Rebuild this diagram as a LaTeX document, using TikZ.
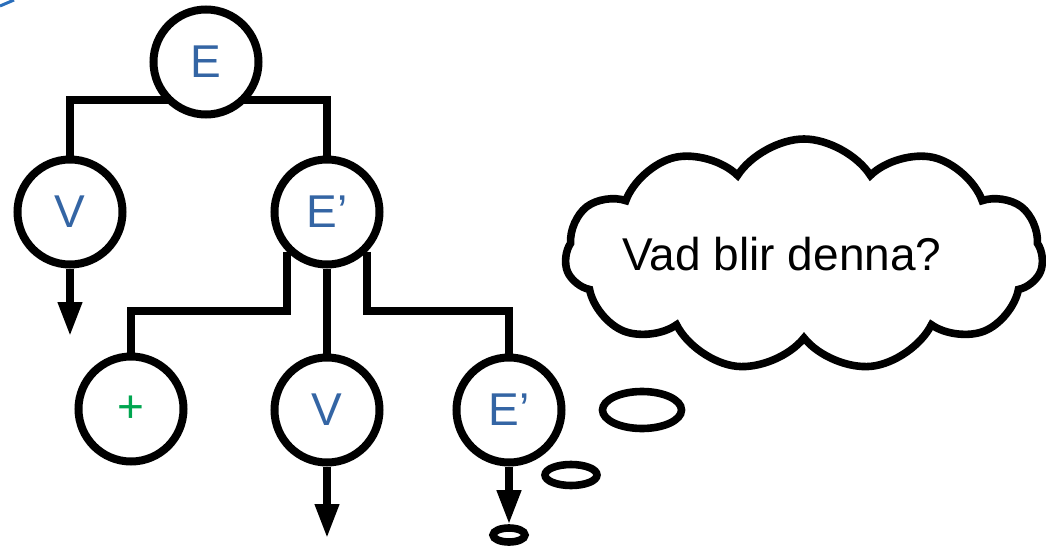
\documentclass[tikz,border=0pt]{standalone}
\usepackage{fontspec}
\setmainfont{Liberation Sans}
\usetikzlibrary{arrows.meta,shapes.geometric,shapes.symbols,backgrounds}

\definecolor{symblue}{HTML}{3465A4}
\definecolor{symgreen}{HTML}{00A650}
\definecolor{edgeblue}{HTML}{2A6EBB}

\begin{document}
\begin{tikzpicture}[x=0.5pt,y=-0.5pt,
    sym/.style={circle,draw,line width=4pt,fill=white,minimum size=52.5pt,
        inner sep=0pt,text=symblue,font=\fontsize{23}{27}\selectfont},
    wire/.style={line width=3.6pt},
    down/.style={wire,-{Triangle[width=11.5pt,length=17pt]}},
    bubble/.style={ellipse,draw,line width=3.8pt,inner sep=0pt}]

\useasboundingbox (0,0) rectangle (1046,546);

% ----------------------------------------------------------
% Parse tree symbols
% ----------------------------------------------------------
\node[sym] (expr)  at (206,62)  {E};
\node[sym] (var)   at (70,212)  {V};
\node[sym] (rest)  at (327,212) {E’};
\node[sym,text=symgreen] (plus) at (131,409) {+};
\node[sym] (var2)  at (327,410) {V};
\node[sym] (rest2) at (509,410) {E’};

% ----------------------------------------------------------
% Branches (behind the symbols)
% ----------------------------------------------------------
\coordinate (top)    at (200,100);
\coordinate (lsplit) at (131,311);
\coordinate (rsplit) at (509,311);
\begin{pgfonlayer}{background}
    \draw[wire] (var.north) |- (top) -| (rest.north);
    \draw[wire] (rest.south west) |- (lsplit) -- (plus.north);
    \draw[wire] (rest.south) -- (var2.north);
    \draw[wire] (rest.south east) |- (rsplit) -- (rest2.north);
\end{pgfonlayer}

% ----------------------------------------------------------
% Token arrows
% ----------------------------------------------------------
\coordinate (varend)  at (70,336);
\coordinate (var2end) at (327,538);
\draw[down] (var.south) -- (varend);
\draw[down] (var2.south) -- (var2end);

\node[bubble,minimum width=16pt,minimum height=7pt] (tail) at (509,535) {};
\draw[down] (rest2.south) -- (tail.north);

% ----------------------------------------------------------
% Thought cloud
% ----------------------------------------------------------
\node[bubble,minimum width=26pt,minimum height=10.5pt] (puff1) at (571,475) {};
\node[bubble,minimum width=39.5pt,minimum height=18.5pt] (puff2) at (642,410) {};
\node[cloud,draw,line width=3.8pt,cloud puffs=11,cloud puff arc=115,aspect=2.13,
    minimum width=239pt,minimum height=116pt,inner sep=0pt] (thought) at (804,255) {};
\node[font=\fontsize{23}{27}\selectfont] (question) at (782,254) {Vad blir denna?};

% corner mark
\draw[edgeblue,line width=1.5pt] (0,6) -- (14,0);

\end{tikzpicture}
\end{document}
